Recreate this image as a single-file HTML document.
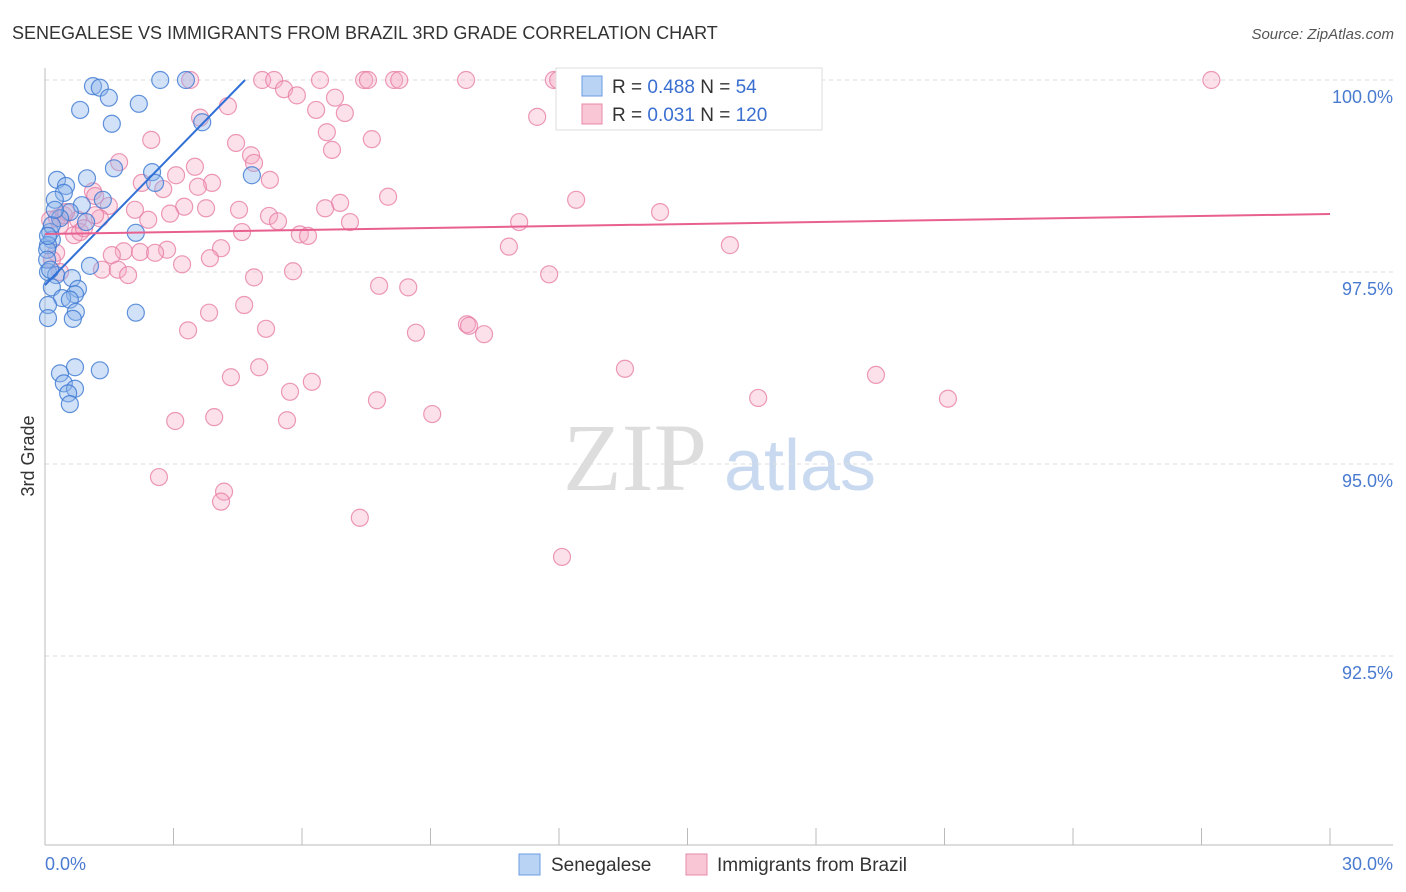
<!DOCTYPE html>
<html><head><meta charset="utf-8"><style>
body{margin:0;background:#fff;font-family:"Liberation Sans",sans-serif;}
</style></head><body>
<svg width="1406" height="892" viewBox="0 0 1406 892" style="display:block">
<text x="12" y="39" font-size="18" fill="#333">SENEGALESE VS IMMIGRANTS FROM BRAZIL 3RD GRADE CORRELATION CHART</text>
<text x="1394" y="39" font-size="15" fill="#555" text-anchor="end" font-style="italic">Source: ZipAtlas.com</text>
<text x="34" y="456" font-size="18" fill="#333" text-anchor="middle" transform="rotate(-90 34 456)">3rd Grade</text>
<g>
<text x="635" y="490" font-size="96" fill="#ddd" font-family="Liberation Serif,serif" text-anchor="middle">ZIP</text>
<text x="800" y="490" font-size="72" fill="#c9daf0" text-anchor="middle">atlas</text>
</g>
<g id="grid"></g>
<g id="axes"></g>
<g id="pts"></g>
<g id="lines"></g>
<g>
<rect x="556" y="68" width="266" height="62" fill="#fff" stroke="#ddd"/>
<rect x="582" y="76" width="20" height="20" fill="#b9d3f5" stroke="#6a9be0"/>
<rect x="582" y="104" width="20" height="20" fill="#f9c6d6" stroke="#e88aa8"/>
<text x="612" y="93" font-size="19" fill="#333">R = <tspan fill="#3a6fd0">0.488</tspan>   N = <tspan fill="#3a6fd0"> 54</tspan></text>
<text x="612" y="121" font-size="19" fill="#333">R = <tspan fill="#3a6fd0">0.031</tspan>   N = <tspan fill="#3a6fd0">120</tspan></text>
</g>
<g>
<rect x="519" y="854" width="21" height="21" fill="#b9d3f5" stroke="#6a9be0"/>
<text x="551" y="871" font-size="19" fill="#333">Senegalese</text>
<rect x="686" y="854" width="21" height="21" fill="#f9c6d6" stroke="#e88aa8"/>
<text x="717" y="871" font-size="19" fill="#333">Immigrants from Brazil</text>
</g>
</svg>
<script>
const yTicks=[100,97.5,95,92.5];
const yTickLabels=["100.0%","97.5%","95.0%","92.5%"];
const xTickVals=[0,3,6,9,12,15,18,21,24,27,30];
const blueX=[2.69,3.29,1.12,1.28,1.49,2.19,0.82,1.56,3.67,1.61,2.50,4.83,0.28,0.98,0.49,0.44,0.23,1.35,0.86,0.58,0.35,0.12,0.16,0.07,2.12,1.05,0.07,0.26,0.63,0.16,0.77,0.70,0.40,0.58,0.07,0.72,2.12,0.07,0.65,0.70,1.28,0.35,0.44,0.70,0.54,0.58,0.16,0.05,0.05,0.23,0.96,2.57,0.07,0.12];
const blueY=[100,100,99.92,99.90,99.77,99.69,99.61,99.43,99.45,98.85,98.80,98.76,98.70,98.72,98.62,98.53,98.44,98.44,98.37,98.28,98.20,98.02,97.92,97.85,98.01,97.58,97.50,97.46,97.42,97.30,97.28,97.21,97.16,97.14,97.07,96.98,96.97,96.90,96.89,96.26,96.22,96.18,96.05,95.98,95.92,95.78,98.11,97.79,97.66,98.31,98.15,98.66,97.97,97.53];
const pinkX=[3.39,5.07,5.35,6.42,7.45,7.54,8.15,8.27,9.83,11.88,11.98,13.94,16.23,27.23,5.58,5.88,6.77,4.27,6.33,7.00,11.49,3.62,6.58,2.48,7.63,4.46,4.81,6.70,4.88,3.50,1.73,3.06,2.26,2.76,3.90,3.57,1.12,1.17,1.49,8.01,12.40,6.89,6.54,3.25,3.76,4.53,2.10,2.92,5.23,5.44,7.12,11.07,14.36,2.41,0.28,0.44,0.77,1.28,0.68,0.82,4.60,5.95,6.14,15.99,10.83,4.11,2.85,1.84,2.22,2.57,1.56,0.26,0.16,3.20,1.33,1.70,1.94,5.79,11.77,4.88,0.35,7.80,8.48,4.65,3.83,5.16,3.34,8.66,9.85,9.90,10.25,5.00,4.34,6.23,13.54,19.40,5.72,7.75,16.65,21.08,9.04,3.95,3.04,5.65,2.66,4.18,4.11,7.35,12.07,0.12,0.49,0.35,0.91,3.85,1.17,5.25];
const pinkY=[100,100,100,100,100,100,100,100,100,100,100,100,100,100,99.88,99.80,99.77,99.66,99.61,99.57,99.52,99.51,99.32,99.22,99.23,99.18,99.02,99.09,98.92,98.87,98.93,98.76,98.66,98.58,98.66,98.61,98.55,98.49,98.36,98.48,98.44,98.40,98.33,98.35,98.33,98.31,98.31,98.26,98.23,98.16,98.15,98.15,98.28,98.18,98.20,98.24,98.18,98.20,97.98,98.02,98.02,97.99,97.97,97.85,97.83,97.81,97.79,97.77,97.76,97.75,97.72,97.75,97.66,97.60,97.53,97.53,97.46,97.51,97.47,97.43,97.50,97.32,97.30,97.07,96.97,96.76,96.74,96.71,96.82,96.80,96.69,96.26,96.13,96.07,96.24,96.16,95.94,95.83,95.86,95.85,95.65,95.61,95.56,95.57,94.83,94.64,94.51,94.30,93.79,98.18,98.28,98.11,98.07,97.68,98.24,98.70];
const blueTrend=[[0,97.33],[4.67,100]];
const pinkTrend=[[0,97.995],[30,98.255]];
const NS="http://www.w3.org/2000/svg";
const sx=v=>45+v/30*1285;
const sy=v=>80+(100-v)/2.5*192;
function mk(tag,attrs,parent){const e=document.createElementNS(NS,tag);for(const k in attrs)e.setAttribute(k,attrs[k]);parent.appendChild(e);return e;}
const grid=document.getElementById('grid'),axes=document.getElementById('axes'),pts=document.getElementById('pts'),lines=document.getElementById('lines');
yTicks.forEach((t,i)=>{
 const l=mk('line',{x1:45,x2:1393,y1:sy(t),y2:sy(t),stroke:'#ddd','stroke-dasharray':'4,4'},grid);
 
 
 const tx=mk('text',{x:1393,y:sy(t)+23,'font-size':18,fill:'#4a7bd0','text-anchor':'end'},axes);
 tx.textContent=yTickLabels[i];
 
 
});
const ax=mk('line',{x1:45,x2:1393,y1:845,y2:845,stroke:'#bbb'},axes);


const ay=mk('line',{x1:45,x2:45,y1:68,y2:845,stroke:'#bbb'},axes);


xTickVals.forEach(v=>{
 const t=mk('line',{x1:sx(v),x2:sx(v),y1:828,y2:845,stroke:'#bbb'},axes);
 
 
});
const xl0=mk('text',{x:45,y:870,'font-size':18,fill:'#4a7bd0'},axes);xl0.textContent='0.0%';


const xl1=mk('text',{x:1393,y:870,'font-size':18,fill:'#4a7bd0','text-anchor':'end'},axes);xl1.textContent='30.0%';


pinkX.forEach((x,i)=>{
 const c=mk('circle',{cx:sx(x),cy:sy(pinkY[i]),r:8.5,fill:'rgba(246,170,196,0.35)',stroke:'rgba(230,120,160,0.75)','stroke-width':1.2},pts);
 
 
});
blueX.forEach((x,i)=>{
 const c=mk('circle',{cx:sx(x),cy:sy(blueY[i]),r:8.5,fill:'rgba(140,180,235,0.4)',stroke:'rgba(60,120,210,0.8)','stroke-width':1.2},pts);
 
 
});
const bl=mk('line',{x1:sx(blueTrend[0][0]),y1:sy(blueTrend[0][1]),x2:sx(blueTrend[1][0]),y2:sy(blueTrend[1][1]),stroke:'#2f6fd6','stroke-width':2},lines);


const pl=mk('line',{x1:sx(pinkTrend[0][0]),y1:sy(pinkTrend[0][1]),x2:sx(pinkTrend[1][0]),y2:sy(pinkTrend[1][1]),stroke:'#e8608f','stroke-width':2},lines);


</script>
</body></html>
